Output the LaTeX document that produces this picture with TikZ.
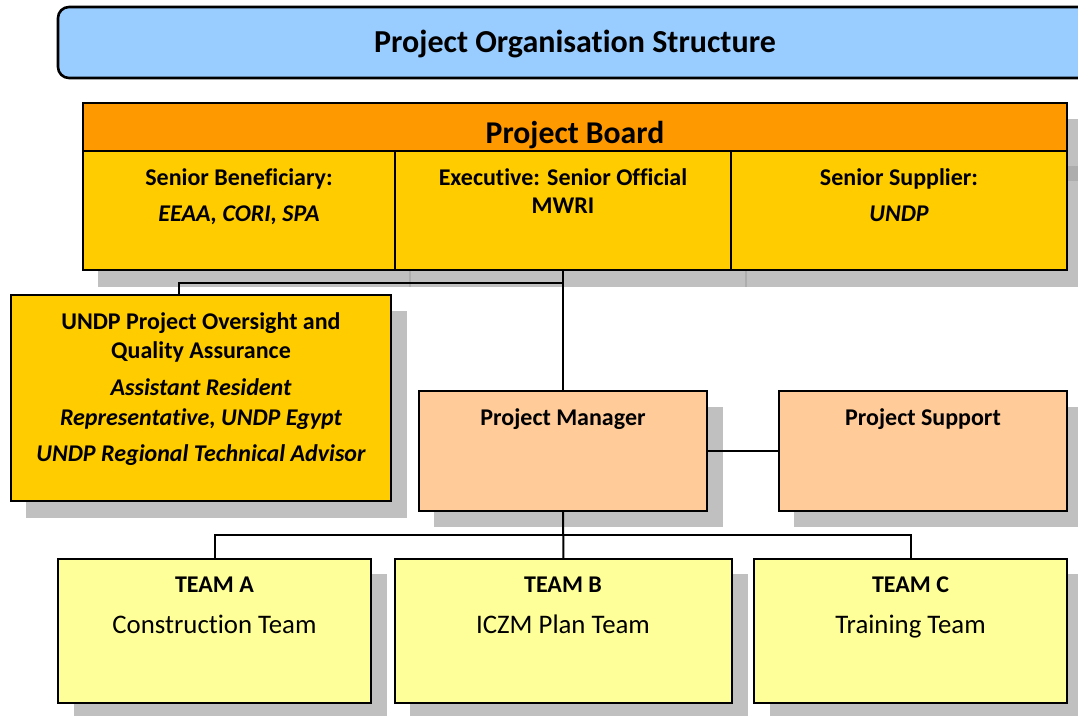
\documentclass[tikz,border=0pt]{standalone}
\usepackage{fontspec}
\setmainfont{Carlito}[Ligatures={NoCommon}]
\definecolor{titleblue}{HTML}{99CCFF}
\definecolor{boardorange}{HTML}{FF9900}
\definecolor{cellgold}{HTML}{FFCC00}
\definecolor{peach}{HTML}{FFCC99}
\definecolor{paleyellow}{HTML}{FFFF99}
\definecolor{shadowgray}{HTML}{C0C0C0}
\definecolor{shadowdark}{HTML}{ADADAD}
\tikzset{
  boxframe/.style={draw=black, line width=2.6pt, inner sep=0pt, outer sep=0pt, rectangle},
  shadowbox/.style={fill=shadowgray, draw=none},
  conn/.style={draw=black, line width=2pt},
  titletxt/.style={font=\fontsize{32}{38}\selectfont\bfseries, anchor=base, inner sep=0pt},
  bigtxt/.style={font=\fontsize{31.7}{38}\selectfont\bfseries, anchor=base, inner sep=0pt},
  boldtxt/.style={font=\fontsize{24}{29}\selectfont\bfseries, anchor=base, inner sep=0pt},
  itxt/.style={font=\fontsize{24}{29}\selectfont\bfseries\itshape, anchor=base, inner sep=0pt},
  rtxt/.style={font=\fontsize{26.8}{32}\selectfont, anchor=base, inner sep=0pt},
}
\begin{document}
\begin{tikzpicture}[x=1pt,y=-1pt]
\useasboundingbox (0,0) rectangle (1078,715);
\clip (0,0) rectangle (1078,715);

% ---------- title ----------
\draw[fill=titleblue, line width=2.6pt, rounded corners=11pt] (58,7) rectangle (1094,78);
\node[titletxt] (title) at (575,52) {Project Organisation Structure};

% ---------- shadows ----------
\fill[shadowbox] (98,119) rectangle (1083,287);
\fill[shadowdark] (1067,166) rectangle (1083,181);
\draw[shadowdark, line width=2pt] (410,271) -- (410,287);
\draw[shadowdark, line width=2pt] (746,271) -- (746,287);
\fill[shadowbox] (26,311) rectangle (407,518);
\fill[shadowbox] (434,407) rectangle (723,527);
\fill[shadowbox] (794,407) rectangle (1083,527);
\fill[shadowbox] (74,574) rectangle (387,720);
\fill[shadowbox] (410,574) rectangle (748,720);
\fill[shadowbox] (770,574) rectangle (1083,720);

% ---------- project board ----------
\node[boxframe, fill=boardorange, minimum width=984pt, minimum height=48pt, anchor=north west] (boardhead) at (83,103) {};
\node[boxframe, fill=cellgold, minimum width=312pt, minimum height=119pt, anchor=north west] (sb) at (83,151) {};
\node[boxframe, fill=cellgold, minimum width=336pt, minimum height=119pt, anchor=north west] (exec) at (395,151) {};
\node[boxframe, fill=cellgold, minimum width=336pt, minimum height=119pt, anchor=north west] (ss) at (731,151) {};
\node[bigtxt] (boardtxt) at (575,143) {Project Board};
\node[boldtxt] (sbtxt) at (239,185) {Senior Beneficiary:};
\node[itxt] (sbtxt2) at (239,221.5) {EEAA, CORI, SPA};
\node[boldtxt] (extxt) at (563,185) {Executive: Senior Official};
\node[boldtxt] (extxt2) at (563,213) {MWRI};
\node[boldtxt] (sstxt) at (899,185) {Senior Supplier:};
\node[itxt] (sstxt2) at (899,221.5) {UNDP};

% ---------- oversight ----------
\node[boxframe, fill=cellgold, minimum width=380pt, minimum height=206pt, anchor=north west] (ovs) at (11,295) {};
\node[boldtxt] (ov1) at (201,329) {UNDP Project Oversight and};
\node[boldtxt] (ov2) at (201,358) {Quality Assurance};
\node[itxt] (ov3) at (201,395) {Assistant Resident};
\node[itxt] (ov4) at (201,425) {Representative, UNDP Egypt};
\node[itxt] (ov5) at (201,461.5) {UNDP Regional Technical Advisor};

% ---------- manager / support ----------
\node[boxframe, fill=peach, minimum width=288pt, minimum height=120pt, anchor=north west] (pm) at (419,391) {};
\node[boxframe, fill=peach, minimum width=288pt, minimum height=120pt, anchor=north west] (ps) at (779,391) {};
\node[boldtxt] (pmtxt) at (563,425) {Project Manager};
\node[boldtxt] (pstxt) at (923,425) {Project Support};

% ---------- teams ----------
\node[boxframe, fill=paleyellow, minimum width=313pt, minimum height=144pt, anchor=north west] (ta) at (58,559) {};
\node[boxframe, fill=paleyellow, minimum width=337pt, minimum height=144pt, anchor=north west] (tb) at (395,559) {};
\node[boxframe, fill=paleyellow, minimum width=313pt, minimum height=144pt, anchor=north west] (tc) at (754,559) {};
\node[boldtxt] (tatxt) at (214.5,592.5) {TEAM A};
\node[rtxt] (tatxt2) at (214.5,633) {Construction Team};
\node[boldtxt] (tbtxt) at (563,592.5) {TEAM B};
\node[rtxt] (tbtxt2) at (563,633) {ICZM Plan Team};
\node[boldtxt] (tctxt) at (910.5,592.5) {TEAM C};
\node[rtxt] (tctxt2) at (910.5,633) {Training Team};

% ---------- connectors ----------
\coordinate (j1) at (179,283);
\coordinate (j2) at (563,535);
\draw[conn] (exec.south) |- (j1) -- (j1 |- ovs.north);
\draw[conn] (exec.south) -- (pm.north);
\draw[conn] (pm.east) -- (ps.west);
\draw[conn] (pm.south) -- (tb.north);
\draw[conn] (ta.north) |- (j2) -| (tc.north);
\end{tikzpicture}
\end{document}
